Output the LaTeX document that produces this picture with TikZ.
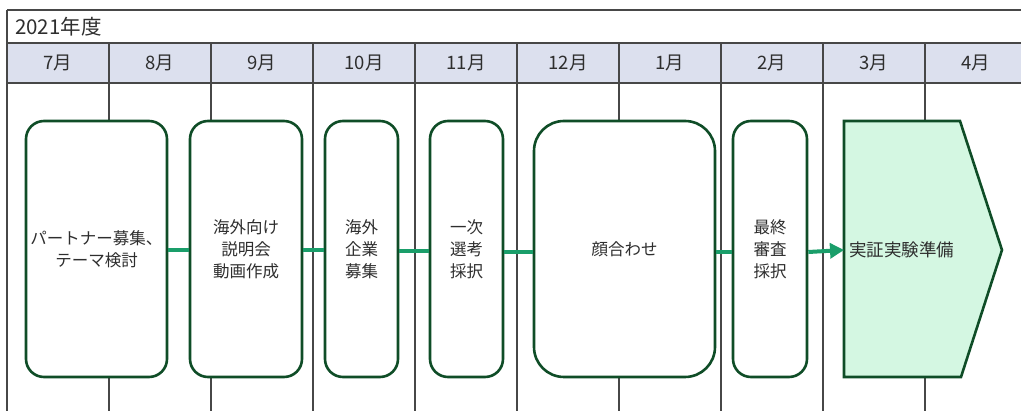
\documentclass[tikz,border=0pt]{standalone}
\usepackage{fontspec}
\setmainfont{Noto Sans CJK JP}
\usetikzlibrary{arrows.meta}
\definecolor{boxline}{HTML}{0F4D27}
\definecolor{conn}{HTML}{1A9E6A}
\definecolor{hdrfill}{HTML}{DCE0EE}
\definecolor{gridc}{HTML}{474747}
\definecolor{txt}{HTML}{2E2E2E}
\definecolor{prepfill}{HTML}{D4F7E2}
\begin{document}
\begin{tikzpicture}[x=1pt,y=-1pt,
  gridline/.style={draw=gridc,line width=1.1pt},
  stagebox/.style={draw=boxline,line width=2.6pt,fill=white,rounded corners=18pt,
    minimum height=256pt,inner sep=0pt,align=center,text=txt,
    font=\fontsize{16.5}{22}\selectfont},
  monthlbl/.style={text=txt,font=\fontsize{18.5}{20}\selectfont,inner sep=0pt},
  link/.style={draw=conn,line width=4pt}]
\useasboundingbox (0,0) rectangle (1021,411);
% header
\fill[hdrfill] (7,43) rectangle (1021,83);
\draw[gridline] (7,10) -- (1021,10);
\draw[gridline] (7,43) -- (1021,43);
\draw[gridline] (7,83) -- (1021,83);
\draw[gridline] (7,10) -- (7,411);
\foreach \x in {109,211,313,415,517,619,721,823,925}
  \draw[gridline] (\x,43) -- (\x,411);
\node[monthlbl,anchor=west,font=\fontsize{20.5}{22}\selectfont] (year) at (15,27) {2021年度};
\node[monthlbl] (m7) at (58,63) {7月};
\node[monthlbl] (m8) at (160,63) {8月};
\node[monthlbl] (m9) at (262,63) {9月};
\node[monthlbl] (m10) at (364,63) {10月};
\node[monthlbl] (m11) at (466,63) {11月};
\node[monthlbl] (m12) at (568,63) {12月};
\node[monthlbl] (m1) at (670,63) {1月};
\node[monthlbl] (m2) at (772,63) {2月};
\node[monthlbl] (m3) at (874,63) {3月};
\node[monthlbl] (m4) at (976,63) {4月};
% stages
\node[stagebox,minimum width=141pt] (b1) at (96.5,249) {パートナー募集、\\テーマ検討};
\node[stagebox,minimum width=112pt] (b2) at (246,249) {海外向け\\説明会\\動画作成};
\node[stagebox,minimum width=73pt] (b3) at (361.5,249) {海外\\企業\\募集};
\node[stagebox,minimum width=73pt] (b4) at (466.5,249) {一次\\選考\\採択};
\node[stagebox,minimum width=181pt,rounded corners=30pt] (b5) at (624.5,249) {顔合わせ};
\node[stagebox,minimum width=74pt] (b6) at (770,249) {最終\\審査\\採択};
% final arrow shape
\draw[draw=boxline,line width=2.6pt,fill=prepfill,line join=miter]
  (844,121) -- (960,121) -- (1002,250) -- (961,377) -- (844,377) -- cycle;
\coordinate (prepin) at (844,250);
\node[anchor=west,text=txt,font=\fontsize{17.5}{22}\selectfont,inner sep=0pt] (prep) at (849,250) {実証実験準備};
% connectors
\draw[link] (b1.east |- 0,250) -- (b2.west |- 0,250);
\draw[link] (b2.east |- 0,250) -- (b3.west |- 0,250);
\draw[link] (b3.east |- 0,251) -- (b4.west |- 0,251);
\draw[link] (b4.east |- 0,252) -- (b5.west |- 0,252);
\draw[link] (b5.east |- 0,252) -- (b6.west |- 0,252);
\draw[link,-{Triangle[length=14pt,width=15pt]}] (b6.east |- 0,252) -- (prepin);
\end{tikzpicture}
\end{document}
